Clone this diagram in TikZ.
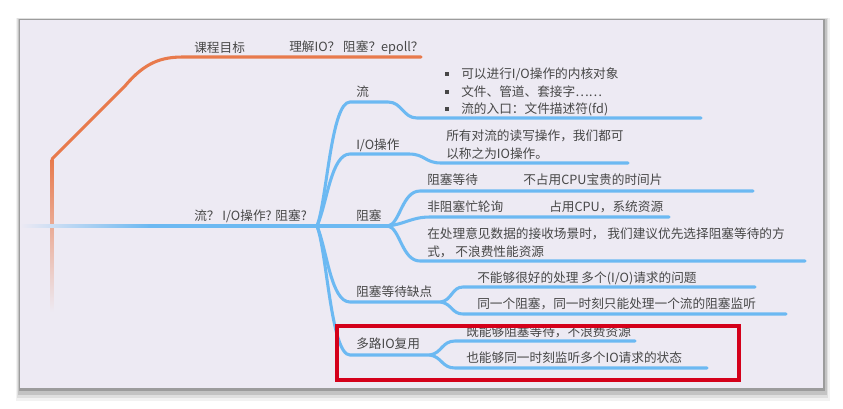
\documentclass[tikz,border=0pt]{standalone}
\usepackage{fontspec}
\setmainfont{Noto Sans CJK SC}
\definecolor{canvas}{HTML}{EDEAF3}
\definecolor{branch}{HTML}{6CB9F2}
\definecolor{goal}{HTML}{E87A4C}
\definecolor{marker}{HTML}{D4001A}
\colorlet{ink}{black!72}

\begin{document}
\begin{tikzpicture}[x=0.75pt,y=-0.75pt,
  limb/.style={branch, line width=2.3pt, line cap=round},
  goalline/.style={goal, line width=2.3pt, line cap=round},
  txt/.style={anchor=west, inner sep=0pt, text=ink, font=\fontsize{9.5}{12}\selectfont},
  bullet/.style={fill=ink, minimum size=2.6pt, inner sep=0pt}]
\useasboundingbox (0,0) rectangle (843,408);
\fill[white] (0,0) rectangle (843,408);
% frame shadow
\foreach \d/\o in {12/0.05,9/0.08,6/0.12,3/0.2}
  \fill[black,opacity=\o] (20-\d*0.3,20-\d*0.2) rectangle (823+\d*0.6,388+\d*1.1);
\fill[canvas] (20,20) rectangle (823,388);

% goal branch
\coordinate (gs) at (52,159);
\coordinate (gk) at (183,57);
\coordinate (ge) at (421,57);
\shade[top color=goal, bottom color=canvas] (50.5,159) rectangle (53.5,312);
\draw[goalline] (gs) -- (125,86) .. controls (145,62) and (162,57) .. (gk) -- (ge);
\node[txt] (goal) at (194,48) {课程目标};
\node[txt] (aim) at (289,48) {理解IO？ 阻塞？epoll？};

% main line
\coordinate (hub) at (317,226);
\shade[left color=canvas, right color=branch] (20,224.5) rectangle (150,227.5);
\draw[limb] (150,226) -- (hub);
\node[txt] (root) at (194,216) {流？ I/O操作? 阻塞?};

% 流
\coordinate (a1) at (350,102);
\coordinate (a2) at (388,102);
\coordinate (a3) at (417,118);
\coordinate (a4) at (701,118);
\draw[limb] (hub) .. controls (327,200) and (331,102) .. (a1) -- (a2)
  .. controls (402,102) and (403,118) .. (a3) -- (a4);
\node[txt] (flow) at (356,92) {流};
\foreach \y/\t [count=\i] in {74/{可以进行I/O操作的内核对象}, 92/{文件、管道、套接字……}, 109/{流的入口：文件描述符(fd)}} {
  \node[bullet] (dot\i) at (447,\y) {};
  \node[txt] (item\i) at (461,\y) {\t};
}

% I/O操作
\coordinate (b1) at (350,154);
\coordinate (b2) at (409,154);
\coordinate (b3) at (441,163);
\coordinate (b4) at (628,163);
\draw[limb] (hub) .. controls (327,204) and (331,154) .. (b1) -- (b2)
  .. controls (425,154) and (425,163) .. (b3) -- (b4);
\node[txt] (io) at (356,145) {I/O操作};
\node[txt] (io1) at (446,136) {所有对流的读写操作，我们都可};
\node[txt] (io2) at (446,154) {以称之为IO操作。};

% 阻塞
\coordinate (hubb) at (388,226);
\draw[limb] (hub) -- (hubb);
\node[txt] (block) at (356,216) {阻塞};
\coordinate (c1) at (420,191);
\coordinate (c2) at (753,191);
\coordinate (d1) at (430,217);
\coordinate (d2) at (669,217);
\coordinate (e1) at (420,261);
\coordinate (e2) at (805,261);
\draw[limb] (hubb) .. controls (400,224) and (402,191) .. (c1) -- (c2);
\draw[limb] (hubb) .. controls (405,224) and (412,217) .. (d1) -- (d2);
\draw[limb] (hubb) .. controls (400,228) and (402,261) .. (e1) -- (e2);
\node[txt] (wait) at (427,180) {阻塞等待};
\node[txt] (waitd) at (523,180) {不占用CPU宝贵的时间片};
\node[txt] (poll) at (427,207) {非阻塞忙轮询};
\node[txt] (polld) at (549,207) {占用CPU，系统资源};
\node[txt] (adv1) at (427,234) {在处理意见数据的接收场景时， 我们建议优先选择阻塞等待的方};
\node[txt] (adv2) at (427,252) {式， 不浪费性能资源};

% 阻塞等待缺点
\coordinate (f1) at (350,302);
\coordinate (hubf) at (441,302);
\draw[limb] (hub) .. controls (327,250) and (331,302) .. (f1) -- (hubf);
\node[txt] (cons) at (356,292) {阻塞等待缺点};
\coordinate (g1) at (463,287);
\coordinate (g2) at (755,287);
\coordinate (h1) at (463,314);
\coordinate (h2) at (786,314);
\draw[limb] (hubf) .. controls (452,300) and (452,287) .. (g1) -- (g2);
\draw[limb] (hubf) .. controls (452,304) and (452,314) .. (h1) -- (h2);
\node[txt] (cons1) at (477,278) {不能够很好的处理 多个(I/O)请求的问题};
\node[txt] (cons2) at (477,304) {同一个阻塞，同一时刻只能处理一个流的阻塞监听};

% 多路IO复用
\coordinate (m1) at (350,355);
\coordinate (hubm) at (430,355);
\draw[limb] (hub) .. controls (327,252) and (331,355) .. (m1) -- (hubm);
\node[txt] (mux) at (356,344) {多路IO复用};
\coordinate (n1) at (455,341);
\coordinate (n2) at (635,341);
\coordinate (p1) at (455,368);
\coordinate (p2) at (707,368);
\draw[limb] (hubm) .. controls (442,353) and (442,341) .. (n1) -- (n2);
\draw[limb] (hubm) .. controls (442,357) and (442,368) .. (p1) -- (p2);
\node[txt] (mux1) at (466,332) {既能够阻塞等待，不浪费资源};
\node[txt] (mux2) at (466,358) {也能够同一时刻监听多个IO请求的状态};

% highlight
\draw[marker, line width=2.3pt] (337,326) rectangle (739,380);
\end{tikzpicture}
\end{document}
